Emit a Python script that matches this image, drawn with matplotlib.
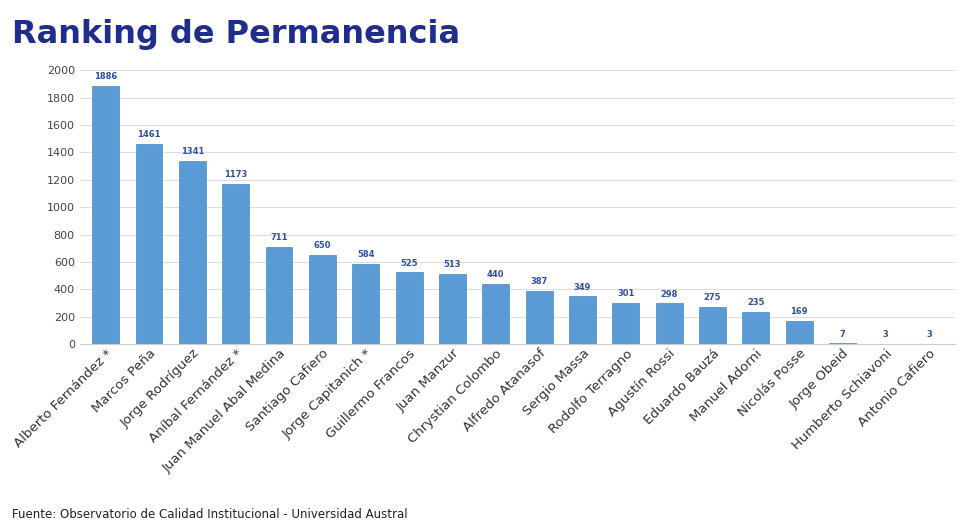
import matplotlib.pyplot as plt
import numpy as np

names = ['Alberto Fernández *', 'Marcos Peña', 'Jorge Rodríguez', 'Aníbal Fernández *',
         'Juan Manuel Abal Medina', 'Santiago Cafiero', 'Jorge Capitanich *',
         'Guillermo Francos', 'Juan Manzur', 'Chrystian Colombo', 'Alfredo Atanasof',
         'Sergio Massa', 'Rodolfo Terragno', 'Agustín Rossi', 'Eduardo Bauzá',
         'Manuel Adorni', 'Nicolás Posse', 'Jorge Obeid', 'Humberto Schiavoni',
         'Antonio Cafiero']
days = [1886, 1461, 1341, 1173, 711, 650, 584, 525, 513, 440, 387, 349, 301, 298,
        275, 235, 169, 7, 3, 3]

fig = plt.figure(figsize=(9.6, 5.28), dpi=100)
ax = fig.add_axes([0.083, 0.348, 0.912, 0.519])
x = np.arange(len(names))
ax.bar(x, days, width=0.62, color='#5B9BD5', edgecolor='#4A8AC4', linewidth=0.5, zorder=2)
for xi, v in zip(x, days):
    ax.text(xi, v + 35, str(v), ha='center', va='bottom', fontsize=6,
            color='#2F4FA0', fontweight='bold')

ax.set_ylim(0, 2000)
ax.set_xlim(-0.6, len(names) - 0.4)
ax.set_yticks(range(0, 2001, 200))
ax.tick_params(axis='y', labelsize=8, colors='#444444', length=0)
ax.tick_params(axis='x', length=0, pad=2)
ax.set_xticks(x)
ax.set_xticklabels(names, rotation=45, ha='right', rotation_mode='anchor',
                   fontsize=9.5, color='#333333')
ax.grid(axis='y', color='#DDDDDD', linewidth=0.8, zorder=0)
for s in ['top', 'right', 'left']:
    ax.spines[s].set_visible(False)
ax.spines['bottom'].set_color('#CCCCCC')

fig.text(0.013, 0.935, 'Ranking de Permanencia', fontsize=23, fontweight='bold',
         color='#1F2E8C', va='center')
fig.text(0.013, 0.025, 'Fuente: Observatorio de Calidad Institucional - Universidad Austral',
         fontsize=8.5, color='#222222', va='center')

fig.savefig('out.png')
